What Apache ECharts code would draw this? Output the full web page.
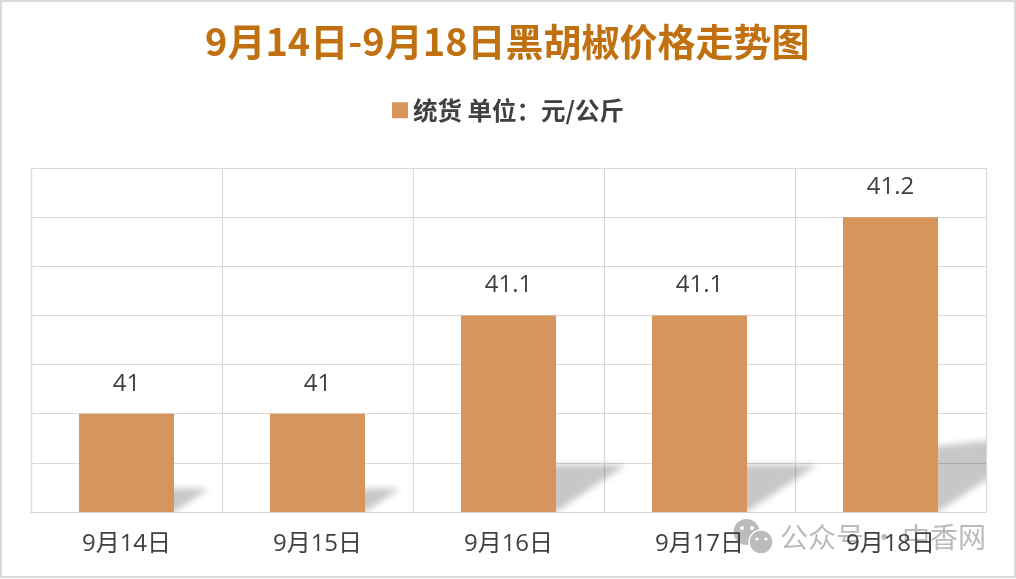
<!DOCTYPE html>
<html>
<head>
<meta charset="utf-8">
<script src="https://cdn.jsdelivr.net/npm/echarts@6/dist/echarts.min.js"></script>
<style>html,body{margin:0;padding:0;background:#fff}#c{width:1016px;height:579px}</style>
</head>
<body>
<div id="c"></div>
<script>
const categories = ['9月14日','9月15日','9月16日','9月17日','9月18日'];
const prices = [41, 41, 41.1, 41.1, 41.2];
const seriesName = '统货 单位：元/公斤';
const titleText = '9月14日-9月18日黑胡椒价格走势图';

const FONT = '"Open Sans","Noto Sans CJK SC",sans-serif';
const CJK = '"Noto Sans CJK SC",sans-serif';
const AXIS_MIN = 40.9;
const OFF = 3000;

const chart = echarts.init(document.getElementById('c'), null, {renderer:'canvas', devicePixelRatio:1});

function renderShadow(params, api){
  const x = api.value(0), v = api.value(1);
  const base = api.coord([x, AXIS_MIN]);
  const top = api.coord([x, v]);
  const bw = api.size([1,0])[0] * 0.4974;
  const h = (base[1]-top[1]) * 0.24;
  const shift = h * 1.49;
  const r = base[0]+bw/2;
  const corner = Math.max(0,h-47)*0.2;
  const pts = [[r-6,base[1]],[r,base[1]],[r+shift,base[1]-h],[r+shift*0.4,base[1]-h],[r,base[1]-h+corner],[r-6,base[1]-h+corner]];
  return {
    type:'polygon',
    x:-OFF,
    shape:{points:pts},
    style:{fill:'#000',shadowBlur:6,shadowOffsetX:OFF,shadowColor:'rgba(0,0,0,0.22)'},
    silent:true
  };
}

chart.setOption({
  animation:false,
  backgroundColor:'#fff',
  title:{
    text:titleText,left:200,top:18,
    textStyle:{fontFamily:CJK,fontWeight:'bold',fontSize:38,color:'#C0700F'}
  },
  legend:{
    data:[{name:seriesName,icon:'rect'}],
    top:93,left:'center',itemWidth:16,itemHeight:16,itemGap:7,
    textStyle:{fontFamily:CJK,fontWeight:'bold',fontSize:24.5,color:'#404040'}
  },
  grid:{left:31,right:30,top:168,bottom:67,containLabel:false},
  xAxis:{
    type:'category',data:categories,
    axisTick:{show:false},
    axisLine:{lineStyle:{color:'#d4d4d4',width:1.2}},
    splitLine:{show:true,lineStyle:{color:'#d9d9d9',width:1.2}},
    axisLabel:{fontFamily:FONT,fontSize:24,color:'#404040',margin:20}
  },
  yAxis:{
    type:'value',min:AXIS_MIN,max:41.25,interval:0.05,
    axisLabel:{show:false},axisTick:{show:false},
    axisLine:{show:true,lineStyle:{color:'#d9d9d9',width:1.2}},
    splitLine:{show:true,lineStyle:{color:'#d9d9d9',width:1.2}}
  },
  series:[
    {type:'custom',name:'shadow',data:categories.map((c,i)=>[i,prices[i]]),
     renderItem:renderShadow,clip:true,z:1,silent:true,
     encode:{x:0,y:1}},
    {type:'bar',name:seriesName,data:prices,barWidth:95,z:3,
     itemStyle:{color:'#D6955B'},
     label:{show:true,position:'top',distance:18,fontFamily:FONT,fontSize:24,color:'#404040'}}
  ],
  graphic:[
    {type:'rect',z:10,silent:true,shape:{x:1,y:1,width:1014,height:576},style:{fill:'none',stroke:'#d9d9d9',lineWidth:2}},
    {type:'circle',z:0,silent:true,shape:{cx:746.5,cy:532,r:13},style:{fill:'#bbb'}},
    {type:'circle',z:0,silent:true,shape:{cx:761,cy:542,r:12},style:{fill:'#bbb',stroke:'#fff',lineWidth:1.5}},
    {type:'circle',z:0,silent:true,shape:{cx:742,cy:528,r:2},style:{fill:'#fff'}},
    {type:'circle',z:0,silent:true,shape:{cx:752,cy:528,r:2},style:{fill:'#fff'}},
    {type:'circle',z:0,silent:true,shape:{cx:757,cy:539,r:1.6},style:{fill:'#fff'}},
    {type:'circle',z:0,silent:true,shape:{cx:766,cy:539,r:1.6},style:{fill:'#fff'}},
    {type:'text',z:0,silent:true,x:780,y:537,style:{text:'公众号 ·',fill:'#bbb',font:'28px '+CJK,verticalAlign:'middle'}},
    {type:'text',z:0,silent:true,x:902,y:537,style:{text:'中香网',fill:'#bbb',font:'28px '+CJK,verticalAlign:'middle'}}
  ]
});
</script>
</body>
</html>
